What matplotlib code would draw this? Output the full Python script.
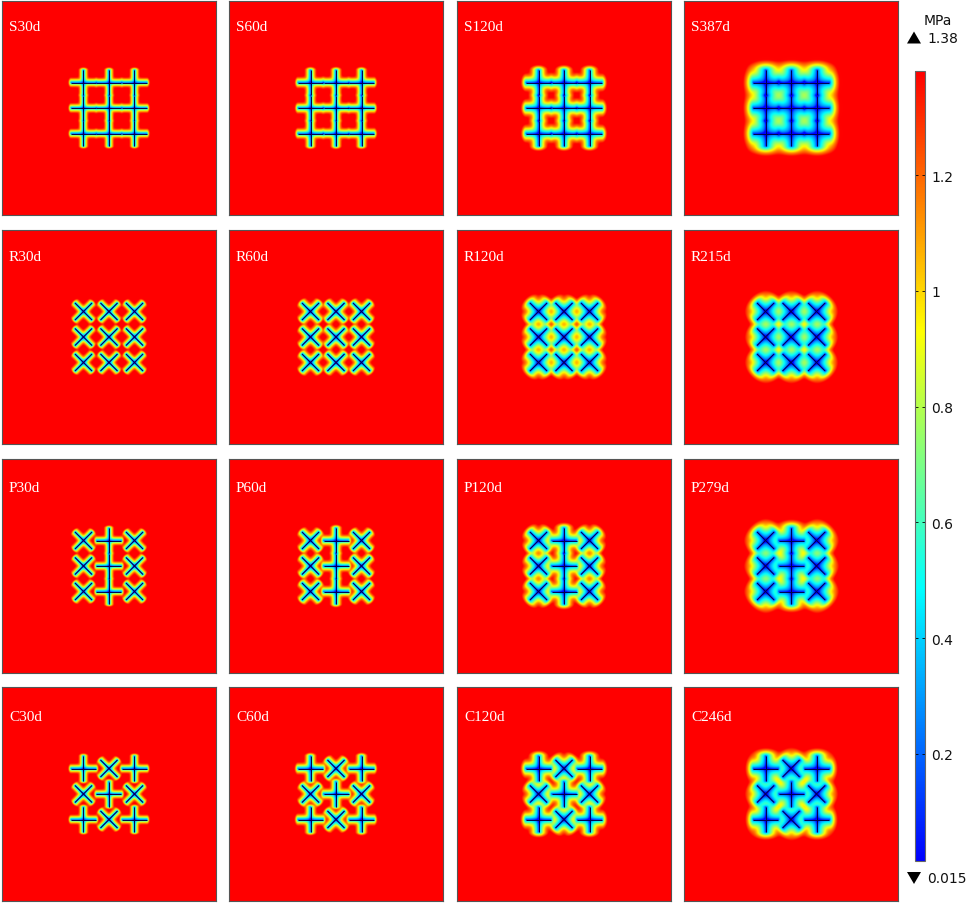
import numpy as np
import matplotlib
matplotlib.use("Agg")
import matplotlib.pyplot as plt
from matplotlib.cm import ScalarMappable
from matplotlib.colors import LinearSegmentedColormap, Normalize
from matplotlib.patches import Polygon

# Panel labels
row_s = ["S30d", "S60d", "S120d", "S387d"]
row_r = ["R30d", "R60d", "R120d", "R215d"]
row_p = ["P30d", "P60d", "P120d", "P279d"]
row_c = ["C30d", "C60d", "C120d", "C246d"]

# Crack layout of each row: + is an upright cross, x a rotated one
layout_s = ["+++", "+++", "+++"]
layout_r = ["xxx", "xxx", "xxx"]
layout_p = ["x+x", "x+x", "x+x"]
layout_c = ["+x+", "x+x", "+x+"]

# Distance (px) from a crack that sets the width of the halo, estimated per panel.
# The field is a model built from these and the layouts, not measured cells.
reach_s = [3.1, 3.6, 5.5, 10.5]
reach_r = [3.1, 3.8, 6.5, 8.5]
reach_p = [3.1, 3.8, 6.0, 9.0]
reach_c = [3.1, 3.8, 6.0, 8.5]

# Extra relative pressure drop inside the crack block, estimated per panel
inner_s = [0.0, 0.0, 0.0, 0.05]
inner_r = [0.0, 0.0, 0.0, 0.05]
inner_p = [0.0, 0.0, 0.0, 0.05]
inner_c = [0.0, 0.0, 0.0, 0.05]

# Pressure (MPa) against distance from a crack as a share of the reach
profile_dist = [0.0, 0.06, 0.2, 0.45, 0.7, 0.9, 1.2, 1.7]
profile_press = [0.015, 0.22, 0.40, 0.60, 0.80, 0.95, 1.15, 1.38]

# Colour bar
p_min, p_max = 0.015, 1.38
bar_ticks = [0.2, 0.4, 0.6, 0.8, 1.0, 1.2]
bar_tick_labels = ["0.2", "0.4", "0.6", "0.8", "1", "1.2"]
stop_values = [0.015, 0.484, 0.71, 0.93, 1.38]
stop_colors = ["#0000ff", "#00ffff", "#80ff80", "#ffff00", "#ff0000"]

W, H = 969, 904
DPI = 100
col_left = [2, 229, 457, 684]
row_top = [2, 231, 460, 688]
PANEL = 214
SPACING = 25.5
ARM = 12.5
ARM_X = 12.0
TIP_K = 1.8


def px_axes(fig, left, top, width, height):
    return fig.add_axes([left / W, 1 - (top + height) / H, width / W, height / H])


def centres(layout):
    c = PANEL / 2
    out = []
    for j, line in enumerate(layout):
        for i, kind in enumerate(line):
            out.append((c + (i - 1) * SPACING, c + (j - 1) * SPACING, kind))
    return out


def segments(layout):
    segs = []
    for x0, y0, kind in centres(layout):
        if kind == "+":
            segs.append(((x0 - ARM, y0), (x0 + ARM, y0)))
            segs.append(((x0, y0 - ARM), (x0, y0 + ARM)))
        else:
            a = ARM_X / np.sqrt(2)
            segs.append(((x0 - a, y0 - a), (x0 + a, y0 + a)))
            segs.append(((x0 - a, y0 + a), (x0 + a, y0 - a)))
    return segs


def field(layout, reach, inner):
    xs = np.arange(PANEL * 2) / 2 + 0.25
    X, Y = np.meshgrid(xs, xs)
    tau = 0.22 * reach
    total = np.zeros_like(X)
    for (ax_, ay_), (bx, by) in segments(layout):
        dx, dy = bx - ax_, by - ay_
        seg = np.hypot(dx, dy)
        u = ((X - ax_) * dx + (Y - ay_) * dy) / seg
        perp = np.abs((X - ax_) * dy - (Y - ay_) * dx) / seg
        over = np.maximum(np.maximum(-u, u - seg), 0)
        d = np.hypot(perp, TIP_K * over)
        total += np.exp(-np.minimum(d / tau, 500))
    soft = np.maximum(-tau * np.log(total + 1e-200), 0)
    dc = np.full_like(X, 1e9)
    for x0, y0, _ in centres(layout):
        dc = np.minimum(dc, np.hypot(X - x0, Y - y0))
    p = np.interp(soft / reach, profile_dist, profile_press)
    star = 1 - 0.25 * np.exp(-(dc / (1.1 * reach)) ** 2)
    c = PANEL / 2
    hw, w = 30.0, 3.0
    mask = 1 / (1 + np.exp((np.abs(X - c) - hw) / w)) / (1 + np.exp((np.abs(Y - c) - hw) / w))
    return np.clip(p * star * (1 - inner * mask), p_min, p_max)


frac = [(v - p_min) / (p_max - p_min) for v in stop_values]
cmap = LinearSegmentedColormap.from_list("rainbow_fem", list(zip(frac, stop_colors)), N=512)
norm = Normalize(p_min, p_max)

fig = plt.figure(figsize=(W / DPI, H / DPI), dpi=DPI, facecolor="white")

rows = [row_s, row_r, row_p, row_c]
layouts = [layout_s, layout_r, layout_p, layout_c]
reaches = [reach_s, reach_r, reach_p, reach_c]
inners = [inner_s, inner_r, inner_p, inner_c]
label_base = [29, 30, 32, 33]

for r, (labels, layout, reach, inner) in enumerate(zip(rows, layouts, reaches, inners)):
    for c, (label, L, b) in enumerate(zip(labels, reach, inner)):
        ax = px_axes(fig, col_left[c], row_top[r], PANEL, PANEL)
        ax.imshow(field(layout, L, b), cmap=cmap, norm=norm, extent=(0, PANEL, PANEL, 0),
                  interpolation="bilinear", aspect="auto")
        for (x0, y0), (x1, y1) in segments(layout):
            ax.plot([x0, x1], [y0, y1], color="#00004d", lw=0.7, solid_capstyle="butt")
        ax.set_xlim(0, PANEL)
        ax.set_ylim(PANEL, 0)
        ax.set_xticks([])
        ax.set_yticks([])
        for s in ax.spines.values():
            s.set_color("#555555")
            s.set_linewidth(0.8)
        ax.text(7, label_base[r], label, color="white", family="Liberation Serif",
                fontsize=11, ha="left", va="baseline")

cax = px_axes(fig, 915, 72, 9.5, 790)
cb = fig.colorbar(ScalarMappable(norm=norm, cmap=cmap), cax=cax)
cb.set_ticks(bar_ticks)
cb.set_ticklabels(bar_tick_labels)
cb.ax.tick_params(axis="y", which="both", direction="in", length=2, width=0.6, pad=5,
                  labelsize=10, left=True, right=True, labelcolor="#111111")
cb.ax.minorticks_off()
cb.outline.set_edgecolor("#666666")
cb.outline.set_linewidth(0.8)

fig.text(938 / W, 1 - 21 / H, "MPa", fontsize=10, ha="center", va="center", color="#111111")
fig.text(927 / W, 1 - 39 / H, f"{p_max:g}", fontsize=10, ha="left", va="center", color="#111111")
fig.text(927 / W, 1 - 879 / H, f"{p_min:g}", fontsize=10, ha="left", va="center", color="#111111")


def tri(points):
    return Polygon([(x / W, 1 - y / H) for x, y in points], closed=True, facecolor="black",
                   edgecolor="none", transform=fig.transFigure)


fig.add_artist(tri([(907, 44.5), (921, 44.5), (914, 32.5)]))
fig.add_artist(tri([(907, 873), (921, 873), (914, 885)]))

fig.savefig("out.png", dpi=DPI)
